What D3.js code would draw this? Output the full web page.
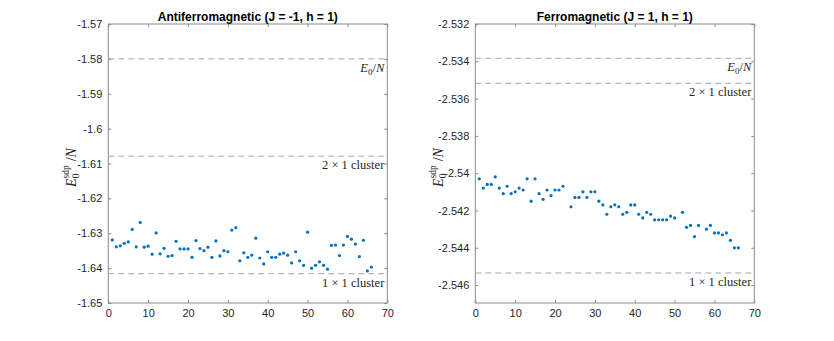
<!DOCTYPE html>
<html>
<head>
<meta charset="utf-8">
<script src="https://cdn.jsdelivr.net/npm/d3@7"></script>
<style>
body{margin:0;background:#fff}
text{font-family:"Liberation Sans",Arial,sans-serif}
</style>
</head>
<body>
<div id="chart"></div>
<script>
// energies per site from the sdp, one value per run (null = no point)
var afmValues = [-1.6319,-1.6339,-1.6336,-1.6329,-1.6325,-1.6289,-1.6339,-1.6269,-1.6340,-1.6337,
 -1.6360,-1.6299,-1.6359,-1.6343,-1.6366,-1.6364,-1.6323,-1.6345,-1.6345,-1.6345,
 -1.6369,-1.6321,-1.6344,-1.6350,-1.6340,-1.6369,-1.6322,-1.6365,-1.6350,-1.6353,
 -1.6291,-1.6284,-1.6379,-1.6356,-1.6369,-1.6363,-1.6314,-1.6371,-1.6388,-1.6353,
 -1.6369,-1.6369,-1.6360,-1.6357,-1.6363,-1.6385,-1.6353,-1.6379,-1.6392,-1.6297,
 -1.6400,-1.6392,-1.6382,-1.6392,-1.6403,-1.6335,-1.6334,-1.6364,-1.6334,-1.6309,
 -1.6317,-1.6331,-1.6367,-1.6320,-1.6408,-1.6397]

var fmValues = [-2.5403,-2.5408,-2.5406,-2.5406,-2.5402,-2.5408,-2.5411,-2.5407,-2.5411,-2.5410,
 -2.5408,-2.5409,-2.5403,-2.5415,-2.5403,-2.5411,-2.5414,-2.5409,-2.5412,-2.5409,
 -2.5409,-2.5407,null,-2.5418,-2.5413,-2.5413,-2.5410,-2.5413,-2.5410,-2.5410,
 -2.5415,-2.5417,-2.5422,-2.5418,-2.5417,-2.5418,-2.5422,-2.5421,-2.5417,-2.5417,
 -2.5422,-2.5424,-2.5421,-2.5422,-2.5425,-2.5425,-2.5425,-2.5425,-2.5423,-2.5424,
 null,-2.5421,-2.5429,-2.5428,-2.5434,-2.5428,null,-2.5430,-2.5428,-2.5432,
 -2.5432,-2.5433,-2.5432,-2.5436,-2.5440,-2.5440]

// reference energies: exact, 2x1 cluster, 1x1 cluster
var afmRefs = [-1.5800,-1.6079,-1.6416]
var fmRefs = [-2.53384,-2.53518,-2.54535]
var refNames = ["E0N","2 \u00d7 1 cluster","1 \u00d7 1 cluster"]

var xTicks = [0,10,20,30,40,50,60,70]
var afmTicks = [-1.57,-1.58,-1.59,-1.6,-1.61,-1.62,-1.63,-1.64,-1.65]
var fmTicks = [-2.532,-2.534,-2.536,-2.538,-2.54,-2.542,-2.544,-2.546]

var titles = ["Antiferromagnetic (J = -1, h = 1)","Ferromagnetic (J = 1, h = 1)"]

var width = 834, height = 341
var svg = d3.select("#chart").append("svg")
  .attr("width",width).attr("height",height)

var axisColor = "#8a8a8a", textColor = "#262626", dotColor = "#0072bd"
var serif = "'Liberation Serif','DejaVu Serif',serif"

function drawPanel(left, values, refs, yTicks, yDomain, yDigits, title){
  var top = 24, w = 279, h = 279
  var g = svg.append("g").attr("transform","translate("+left+","+top+")")
  var x = d3.scaleLinear().domain([0,70]).range([0,w])
  var y = d3.scaleLinear().domain(yDomain).range([h,0])

  var fmt = function(d){ return String(+d.toFixed(yDigits)) }

  // box + mirrored ticks
  g.append("rect").attr("width",w).attr("height",h)
    .attr("fill","none").attr("stroke",axisColor).attr("stroke-width",1)

  g.append("g").attr("transform","translate(0,"+h+")")
    .call(d3.axisBottom(x).tickValues(xTicks).tickSizeInner(-3).tickSizeOuter(0).tickPadding(6))
  g.append("g")
    .call(d3.axisLeft(y).tickValues(yTicks).tickFormat(fmt).tickSizeInner(-3).tickSizeOuter(0).tickPadding(6))
  g.append("g").call(d3.axisTop(x).tickValues(xTicks).tickSize(-3).tickFormat(""))
  g.append("g").attr("transform","translate("+w+",0)")
    .call(d3.axisRight(y).tickValues(yTicks).tickSize(-3).tickFormat(""))
  g.selectAll(".domain").remove()
  g.selectAll(".tick line").attr("stroke",axisColor)
  g.selectAll(".tick text").attr("fill",textColor).style("font-size","11px")
    .style("font-family","'Liberation Sans',Arial,sans-serif")

  // reference lines
  refs.forEach(function(r,i){
    g.append("line").attr("x1",0).attr("x2",w)
      .attr("y1",y(r)).attr("y2",y(r))
      .attr("stroke","#a6a6a6").attr("stroke-width",1).attr("stroke-dasharray","6,4")
    var t = g.append("text").attr("x",w-3).attr("y",y(r)+13)
      .attr("text-anchor","end").attr("fill",textColor)
      .style("font-family",serif).style("font-size","12.5px")
    if(refNames[i]=="E0N"){
      t.append("tspan").style("font-style","italic").text("E")
      t.append("tspan").attr("dy",3).style("font-size","9px").text("0")
      t.append("tspan").attr("dy",-3).text("/")
      t.append("tspan").style("font-style","italic").text("N")
    }else{
      t.text(refNames[i])
    }
  })

  // points
  var pts = values.map(function(v,i){ return {n:i+1,v:v} })
    .filter(function(d){ return d.v!=null })
  g.selectAll(".pt").data(pts).enter().append("circle")
    .attr("class","pt")
    .attr("cx",function(d){ return x(d.n) })
    .attr("cy",function(d){ return y(d.v) })
    .attr("r",1.6).attr("fill",dotColor)

  // title
  g.append("text").attr("x",w/2).attr("y",-3).attr("text-anchor","middle")
    .attr("fill","#000").style("font-weight","bold").style("font-size","12px")
    .text(title)

  // y label  E_0^sdp / N
  var yl = g.append("text")
    .attr("transform","translate(-32,"+(h/2+4)+") rotate(-90)")
    .attr("text-anchor","middle").attr("fill",textColor)
    .style("font-family",serif).style("font-size","14px")
  yl.append("tspan").style("font-style","italic").text("E")
  yl.append("tspan").attr("dy",3).style("font-size","9.5px").text("0")
  yl.append("tspan").attr("dx",-5).attr("dy",-10).style("font-size","9.5px").text("sdp")
  yl.append("tspan").attr("dx",4).attr("dy",7).text("/")
  yl.append("tspan").style("font-style","italic").text("N")
}

drawPanel(108.3, afmValues, afmRefs, afmTicks, [-1.65,-1.57], 2, titles[0])
drawPanel(475.3, fmValues, fmRefs, fmTicks, [-2.54696,-2.532], 3, titles[1])
</script>
</body>
</html>
